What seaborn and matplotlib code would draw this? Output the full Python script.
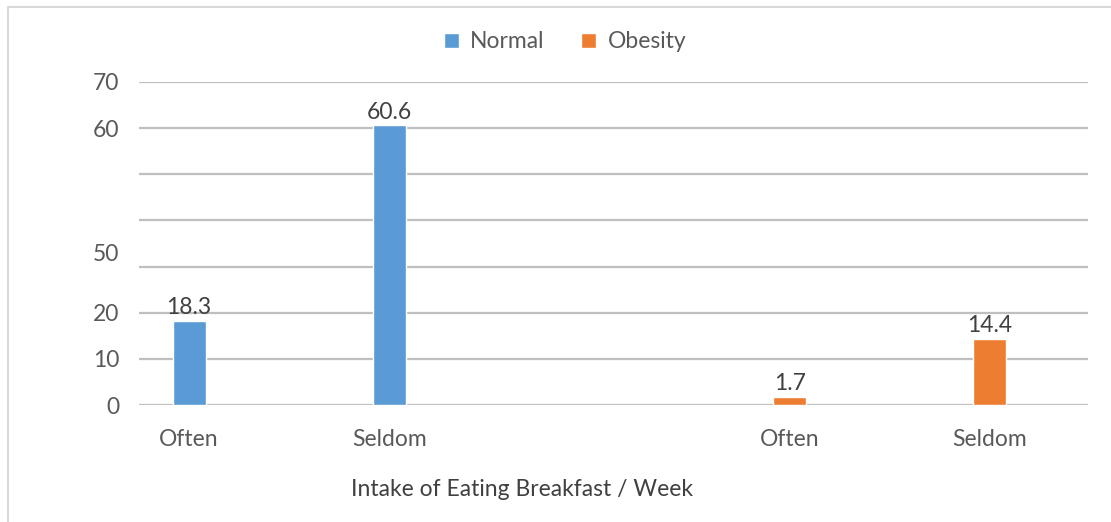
import matplotlib
matplotlib.use("Agg")
import matplotlib.pyplot as plt
import seaborn as sns
import pandas as pd
from matplotlib.patches import Rectangle

# Data
groups = ["Normal", "Normal", "Obesity", "Obesity"]
intake = ["Often", "Seldom", "Often", "Seldom"]
values = [18.3, 60.6, 1.7, 14.4]
slot_order = ["Normal|Often", "Normal|Seldom", "gap", "Obesity|Often", "Obesity|Seldom"]
slot_labels = ["Often", "Seldom", "", "Often", "Seldom"]
ytick_vals = [0, 10, 20, 33, 60, 70]
ytick_labels = ["0", "10", "20", "50", "60", "70"]
grid_vals = [0, 10, 20, 30, 40, 50, 60, 70]
xlabel = "Intake of Eating Breakfast / Week"

df = pd.DataFrame({
    "slot": [f"{g}|{i}" for g, i in zip(groups, intake)],
    "group": groups,
    "value": values,
})

sns.set_theme(style="white")
plt.rcParams["font.family"] = ["Lato", "DejaVu Sans"]
FS = 16.5

fig = plt.figure(figsize=(11.11, 5.22), dpi=100)
ax = fig.add_axes([139 / 1111, 1 - 405 / 522, (1088 - 139) / 1111, (405 - 82) / 522])

palette = {"Normal": "#5b9bd5", "Obesity": "#ed7d31"}
sns.barplot(data=df, x="slot", y="value", hue="group", order=slot_order,
            hue_order=["Normal", "Obesity"], palette=palette, dodge=False,
            width=0.165, ax=ax, saturation=1, legend=True)

ax.set_ylim(0, 70)
ax.set_xlim(-0.25, 4.49)
for g in grid_vals:
    ax.axhline(g, color="#bfbfbf", lw=1.6, zorder=0)
ax.set_yticks(ytick_vals)
ax.set_yticklabels(ytick_labels)
ax.set_xticks(range(len(slot_order)))
ax.set_xticklabels(slot_labels)
ax.tick_params(axis="both", length=0, labelsize=FS, colors="#595959")
ax.tick_params(axis="x", pad=17)
ax.tick_params(axis="y", pad=14)
ax.set_xlabel(xlabel, fontsize=FS, color="#404040")
ax.xaxis.set_label_coords((522 - 139) / (1088 - 139), -(479 - 405) / (405 - 82))
ax.set_ylabel("")
for s in ax.spines.values():
    s.set_visible(False)

for cont in ax.containers:
    labels = [f"{v:.1f}" if v == v and v != 0 else "" for v in cont.datavalues]
    ax.bar_label(cont, labels=labels, fontsize=FS, color="#404040", padding=2)

handles, labs = ax.get_legend_handles_labels()
ax.legend(handles, labs, loc="center", bbox_to_anchor=(565 / 1111, 1 - 42 / 522),
          bbox_transform=fig.transFigure, ncol=2, frameon=False, fontsize=FS,
          labelcolor="#595959", handlelength=0.65, handleheight=0.65, handletextpad=0.5,
          columnspacing=1.6)

fig.patches.append(Rectangle((8 / 1111, -0.1), 1.2, 1.1 - 7 / 522, transform=fig.transFigure,
                             fill=False, edgecolor="#d9d9d9", lw=1.5))

fig.savefig("out.png", dpi=100)
